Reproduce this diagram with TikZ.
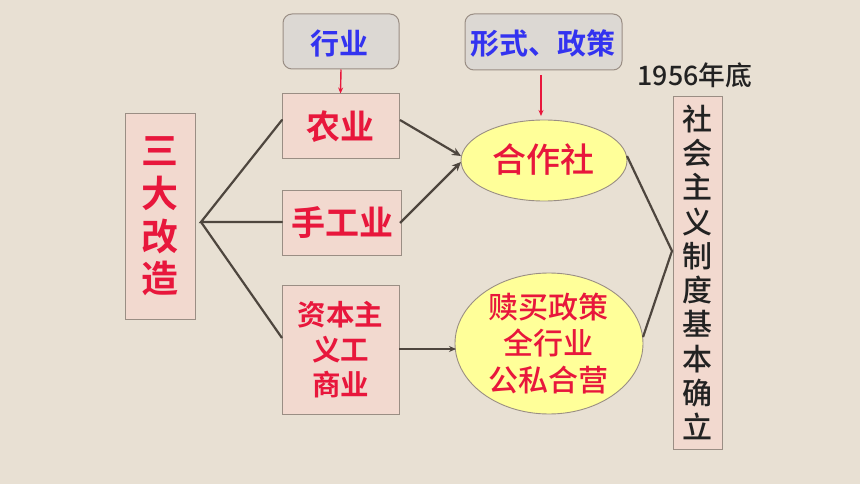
\documentclass[tikz,border=0pt]{standalone}
\usepackage{fontspec}
\newfontfamily\cjk{Noto Sans CJK SC}
\newfontfamily\cjkm{Noto Sans CJK SC Medium}
\newfontfamily\cjkb{Noto Sans CJK SC Bold}
\usetikzlibrary{shapes.geometric,arrows.meta}
\definecolor{bg}{HTML}{E8E0D3}
\definecolor{pinkfill}{HTML}{F2D9CF}
\definecolor{grayfill}{HTML}{DCD8D3}
\definecolor{yel}{HTML}{FFFF99}
\definecolor{redtxt}{HTML}{E8173C}
\definecolor{bluetxt}{HTML}{3333F0}
\definecolor{edge}{HTML}{9A8E84}
\definecolor{lin}{HTML}{4E463E}
\definecolor{blk}{HTML}{222222}
\tikzset{
  pinkbox/.style={draw=edge, line width=1pt, fill=pinkfill, inner sep=0pt},
  graybox/.style={draw=edge, line width=1pt, fill=grayfill, rounded corners=9pt, inner sep=0pt},
  yelell/.style={ellipse, draw=edge, line width=0.9pt, fill=yel, inner sep=0pt},
  conn/.style={draw=lin, line width=2.2pt},
  arr/.style={draw=lin, line width=2.2pt, -{Stealth[length=9pt,width=8pt]}},
  thinarr/.style={draw=lin, line width=1.6pt, -{Stealth[length=7pt,width=6pt]}},
  redarr/.style={draw=redtxt, line width=1.4pt, -{Stealth[length=6pt,width=5pt]}},
}
\begin{document}
\begin{tikzpicture}[x=1pt,y=-1pt]
\fill[bg] (0,0) rectangle (860,484);
\useasboundingbox (0,0) rectangle (860,484);
% boxes
\node[pinkbox, minimum width=70pt, minimum height=205pt] (sdgz) at (160,216.5) {};
\node[text=redtxt, font=\cjkb\fontsize{37}{42.7}\selectfont, align=center] (sdgzt) at (160,216.5) {三\\大\\改\\造};
\node[graybox, minimum width=116pt, minimum height=55pt] (hy) at (341,41.5) {};
\node[text=bluetxt, font=\cjkb\fontsize{29}{34}\selectfont] (hyt) at (339,43) {行业};
\node[graybox, minimum width=157pt, minimum height=56pt] (xszc) at (543.5,42) {};
\node[text=bluetxt, font=\cjkb\fontsize{29}{34}\selectfont] (xszct) at (543,43) {形式、政策};
\node[pinkbox, minimum width=117pt, minimum height=65pt] (ny) at (340.5,126.5) {};
\node[text=redtxt, font=\cjkb\fontsize{34}{40}\selectfont] (nyt) at (340.5,127) {农业};
\node[pinkbox, minimum width=119pt, minimum height=64pt] (sgy) at (341.5,223) {};
\node[text=redtxt, font=\cjkb\fontsize{34}{40}\selectfont] (sgyt) at (342,223) {手工业};
\node[pinkbox, minimum width=117pt, minimum height=129pt] (zb) at (340.5,349.5) {};
\node[text=redtxt, font=\cjkb\fontsize{28.5}{35}\selectfont, align=center] (zbt) at (340.5,350) {资本主\\义工\\商业};
\node[yelell, minimum width=166pt, minimum height=81pt] (hzs) at (544,160.5) {};
\node[text=redtxt, font=\cjkm\fontsize{34}{40}\selectfont] (hzst) at (543.5,160) {合作社};
\node[yelell, minimum width=188pt, minimum height=141pt] (sm) at (549,343.5) {};
\node[text=redtxt, font=\cjkm\fontsize{30}{36.5}\selectfont, align=center] (smt) at (548.5,343.5) {赎买政策\\全行业\\公私合营};
\node[pinkbox, minimum width=49pt, minimum height=352pt] (shzy) at (697.5,273) {};
\node[text=blk, font=\cjkm\fontsize{30}{34.3}\selectfont, align=center] (shzyt) at (697.5,272.5) {社\\会\\主\\义\\制\\度\\基\\本\\确\\立};
\node[text=blk, font=\cjkm\fontsize{26.8}{30}\selectfont] (yr) at (695,75) {1956年底};
% coordinates
\coordinate (lap) at (201,222);
\coordinate (rap) at (672,251);
\coordinate (nyw) at (282,120);
\coordinate (sgw) at (282,222);
\coordinate (zbw) at (282,338);
% bracket left
\draw[conn, line cap=round] (nyw) -- (lap) -- (sgw);
\draw[conn] (lap) -- (zbw);
% arrows
\draw[redarr] (hy.south) -- (ny.north);
\coordinate (xsb) at (541,75);
\coordinate (hzt) at (541,116);
\draw[redarr] (xsb) -- (hzt);
\coordinate (nye) at (400,120);
\coordinate (sge) at (400,223);
\coordinate (h1) at (461,156);
\coordinate (h2) at (461,162);
\draw[arr] (nye) -- (h1);
\draw[arr] (sge) -- (h2);
\coordinate (zbe) at (399,349);
\coordinate (sml) at (456,349);
\draw[thinarr] (zbe) -- (sml);
% right bracket
\coordinate (hze) at (627,156);
\coordinate (sme) at (643,337);
\draw[conn] (hze) -- (rap) -- (sme);
\end{tikzpicture}
\end{document}
